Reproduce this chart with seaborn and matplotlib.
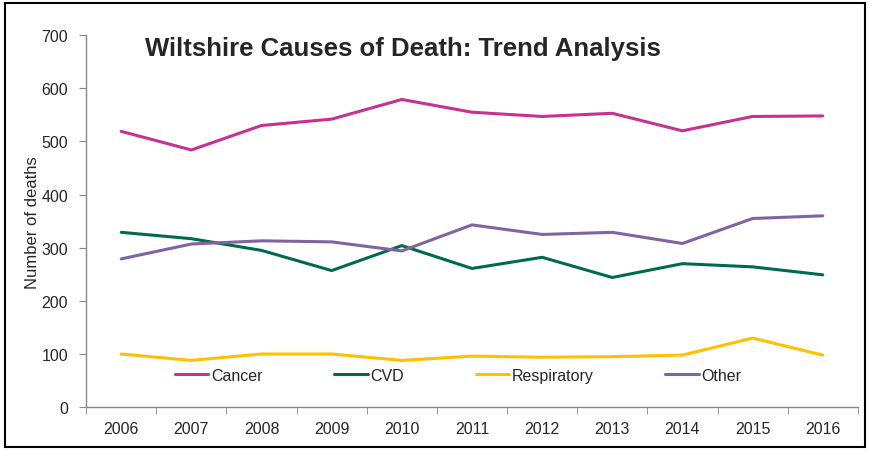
import matplotlib
matplotlib.use("Agg")
import matplotlib.pyplot as plt
import pandas as pd
import seaborn as sns
from matplotlib.patches import Rectangle
from matplotlib.ticker import FixedLocator

years = ["2006", "2007", "2008", "2009", "2010", "2011", "2012", "2013", "2014", "2015", "2016"]
cancer = [519, 484, 530, 542, 579, 555, 547, 553, 520, 547, 548]
cvd = [329, 317, 295, 257, 304, 261, 282, 244, 270, 264, 249]
respiratory = [100, 88, 100, 100, 88, 96, 94, 95, 98, 130, 98]
other = [279, 307, 313, 311, 294, 343, 325, 329, 308, 355, 360]

series = {"Cancer": cancer, "CVD": cvd, "Respiratory": respiratory, "Other": other}
colors = {"Cancer": "#C8318F", "CVD": "#006A4E", "Respiratory": "#FFC000", "Other": "#8064A2"}

rows = []
for name, vals in series.items():
    for i, v in enumerate(vals):
        rows.append({"pos": i, "year": years[i], "cause": name, "deaths": v})
df = pd.DataFrame(rows)

sns.set_style("white")
plt.rcParams["font.family"] = ["Liberation Sans", "DejaVu Sans"]

fig = plt.figure(figsize=(8.7, 4.52), dpi=100)
ax = fig.add_axes([0.099, 0.097, 0.887, 0.823])

sns.lineplot(data=df, x="pos", y="deaths", hue="cause", palette=colors,
             linewidth=2.2, ax=ax, legend=True)

ax.set_xlim(-0.5, len(years) - 0.5)
ax.set_ylim(0, 700)
ax.set_yticks(range(0, 701, 100))
ax.set_xticks(range(len(years)))
ax.set_xticklabels(years)
# category boundaries get the tick marks, labels sit in between
ax.xaxis.set_minor_locator(FixedLocator([i - 0.5 for i in range(len(years) + 1)]))
ax.tick_params(axis="x", which="major", length=0, labelsize=11.5, pad=10)
ax.tick_params(axis="x", which="minor", length=5, color="#888888", direction="out", bottom=True)
ax.tick_params(axis="y", length=5, color="#888888", direction="out", left=True, labelsize=11.5, pad=8)
ax.set_xlabel("")
ax.set_ylabel("Number of deaths", fontsize=12)
ax.yaxis.set_label_coords(-0.06, 0.5)

for s in ["top", "right"]:
    ax.spines[s].set_visible(False)
for s in ["left", "bottom"]:
    ax.spines[s].set_color("#888888")
    ax.spines[s].set_linewidth(1)

ax.text(0.41, 0.965, "Wiltshire Causes of Death: Trend Analysis", transform=ax.transAxes,
        ha="center", va="center", fontsize=18.5, fontweight="bold")

handles, labels = ax.get_legend_handles_labels()
ax.legend(handles, labels, loc="center", bbox_to_anchor=(0.482, 0.086), ncol=4, frameon=False,
          fontsize=11.5, handlelength=2.1, handletextpad=0.15, columnspacing=4.5)

fig.patches.append(Rectangle((0.006, 0.008), 0.988, 0.984, transform=fig.transFigure,
                             fill=False, edgecolor="black", linewidth=1.5))

fig.savefig("out.png", dpi=100)
